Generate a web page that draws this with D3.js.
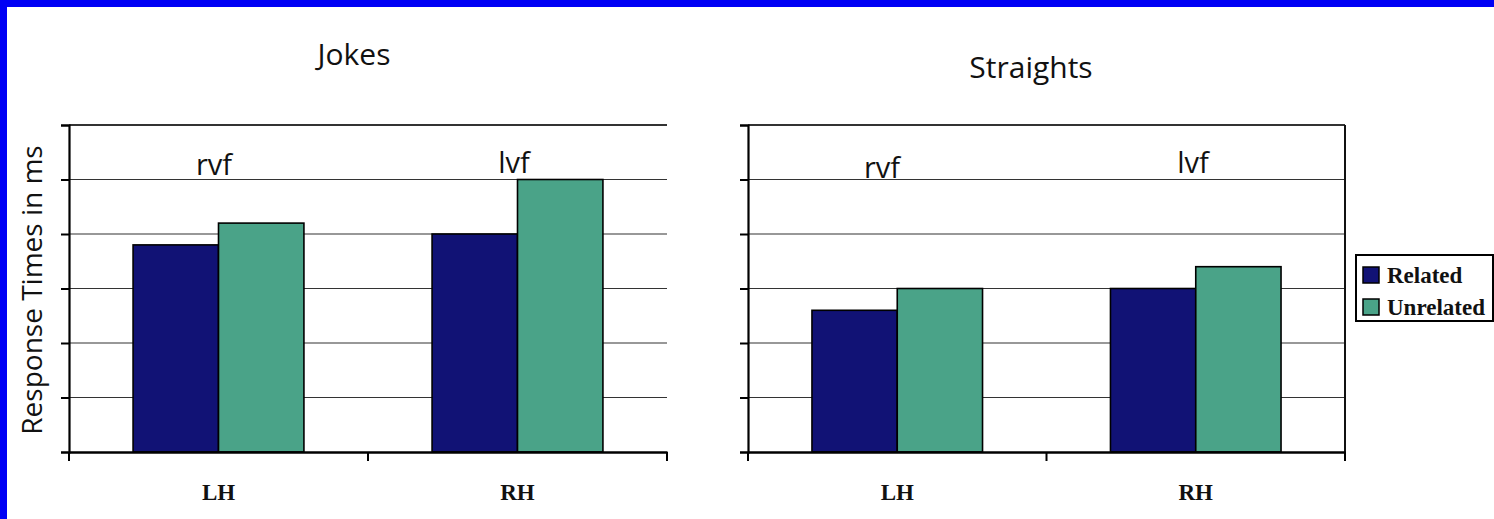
<!DOCTYPE html>
<html><head><meta charset="utf-8">
<script src="https://d3js.org/d3.v7.min.js"></script>
<style>
html,body{margin:0;padding:0;background:#fff;}
svg{display:block;}
</style></head>
<body>
<svg id="chart" width="1494" height="519"></svg>
<script>
const categories = ["LH", "RH"];
const seriesNames = ["Related", "Unrelated"];
const jokesRelated = [3.8, 4.0];
const jokesUnrelated = [4.2, 5.0];
const straightsRelated = [2.6, 3.0];
const straightsUnrelated = [3.0, 3.4];
const fieldLabels = ["rvf", "lvf"];
const yTicks = [0, 1, 2, 3, 4, 5, 6];
const panelTitles = ["Jokes", "Straights"];
const yTitle = "Response Times in ms";
const colors = ["#111275", "#4aa388"];

const svg = d3.select("#chart");
// blue frame
svg.append("rect").attr("x",0).attr("y",0).attr("width",1494).attr("height",519).attr("fill","#0000f5");
svg.append("rect").attr("x",7).attr("y",7).attr("width",1487).attr("height",512).attr("fill","#fff");

const plotTop = 125, plotBottom = 452;
const y = d3.scaleLinear().domain([0, 6]).range([plotBottom, plotTop]);

const panels = [
  {left: 69, right: 667, title: panelTitles[0], tx: 354, ty: 65,
   rel: jokesRelated, unr: jokesUnrelated,
   fl: [{x:214,y:175},{x:514,y:173}], rightBorder:false},
  {left: 748, right: 1345, title: panelTitles[1], tx: 1031, ty: 78,
   rel: straightsRelated, unr: straightsUnrelated,
   fl: [{x:882,y:178},{x:1193,y:173}], rightBorder:true}
];

panels.forEach(p => {
  const g = svg.append("g");
  const x0 = d3.scaleBand().domain(categories).range([p.left, p.right]).padding(0);
  const x1 = d3.scaleBand().domain(seriesNames).range([0, x0.bandwidth()]).paddingInner(0).paddingOuter(0.75);
  // gridlines
  g.selectAll("line.grid").data(yTicks.filter(t => t > 0)).join("line")
    .attr("x1", p.left).attr("x2", p.right)
    .attr("y1", d => y(d)).attr("y2", d => y(d))
    .attr("stroke", "#333").attr("stroke-width", d => d === 6 ? 2 : 1.2);
  if (p.rightBorder) {
    g.append("line").attr("x1", p.right).attr("x2", p.right).attr("y1", plotTop).attr("y2", plotBottom)
      .attr("stroke", "#111").attr("stroke-width", 2);
  }
  // bars
  const data = categories.map((c, i) => ({c, vals: [p.rel[i], p.unr[i]]}));
  data.forEach(d => {
    g.selectAll(null).data(d.vals).join("rect")
      .attr("x", (v, j) => x0(d.c) + x1(seriesNames[j]))
      .attr("y", v => y(v))
      .attr("width", x1.bandwidth())
      .attr("height", v => plotBottom - y(v))
      .attr("fill", (v, j) => colors[j])
      .attr("stroke", "#000").attr("stroke-width", 1.6);
  });
  // y axis
  const ya = d3.axisLeft(y).tickValues(yTicks).tickSize(8).tickFormat("");
  const yg = g.append("g").attr("transform", `translate(${p.left},0)`).call(ya);
  yg.select(".domain").attr("stroke", "#000").attr("stroke-width", 2.2);
  yg.selectAll(".tick line").attr("stroke", "#000").attr("stroke-width", 2);
  // x axis
  const xa = d3.axisBottom(x0).tickSize(0).tickFormat("");
  const xg = g.append("g").attr("transform", `translate(0,${plotBottom})`).call(xa);
  xg.select(".domain").attr("stroke", "#000").attr("stroke-width", 2.4);
  // boundary ticks
  const bounds = [p.left, ...categories.map(c => x0(c) + x0.bandwidth())];
  g.selectAll(null).data(bounds).join("line")
    .attr("x1", d => d).attr("x2", d => d).attr("y1", plotBottom).attr("y2", plotBottom + 9)
    .attr("stroke", "#000").attr("stroke-width", 2);
  // category labels
  g.selectAll(null).data(categories).join("text")
    .attr("x", c => x0(c) + x0.bandwidth() / 2).attr("y", 500)
    .attr("text-anchor", "middle")
    .attr("font-family", "'Liberation Serif', 'Times New Roman', serif")
    .attr("font-weight", "bold").attr("font-size", 23).attr("fill", "#111")
    .text(c => c);
  // field labels
  g.selectAll(null).data(p.fl).join("text")
    .attr("x", d => d.x).attr("y", d => d.y)
    .attr("text-anchor", "middle")
    .attr("font-family", "'Open Sans', sans-serif").attr("font-size", 29).attr("fill", "#111")
    .text((d, i) => fieldLabels[i]);
  // title
  g.append("text").attr("x", p.tx).attr("y", p.ty).attr("text-anchor", "middle")
    .attr("font-family", "'Open Sans', sans-serif").attr("font-size", 30).attr("fill", "#111")
    .text(p.title);
});

// y title
svg.append("text").attr("transform", "translate(42,290) rotate(-90)")
  .attr("text-anchor", "middle")
  .attr("font-family", "'Open Sans', sans-serif").attr("font-size", 28).attr("fill", "#111")
  .text(yTitle);

// legend
const lg = svg.append("g");
lg.append("rect").attr("x", 1356).attr("y", 255).attr("width", 137).attr("height", 66)
  .attr("fill", "#fff").attr("stroke", "#000").attr("stroke-width", 2);
seriesNames.forEach((s, i) => {
  lg.append("rect").attr("x", 1363).attr("y", 267 + i * 32).attr("width", 16).attr("height", 16)
    .attr("fill", colors[i]).attr("stroke", "#000").attr("stroke-width", 1.5);
  lg.append("text").attr("x", 1387).attr("y", 283 + i * 32)
    .attr("font-family", "'Liberation Serif', 'Times New Roman', serif")
    .attr("font-weight", "bold").attr("font-size", 23).attr("fill", "#111")
    .text(s);
});
</script>
</body></html>
